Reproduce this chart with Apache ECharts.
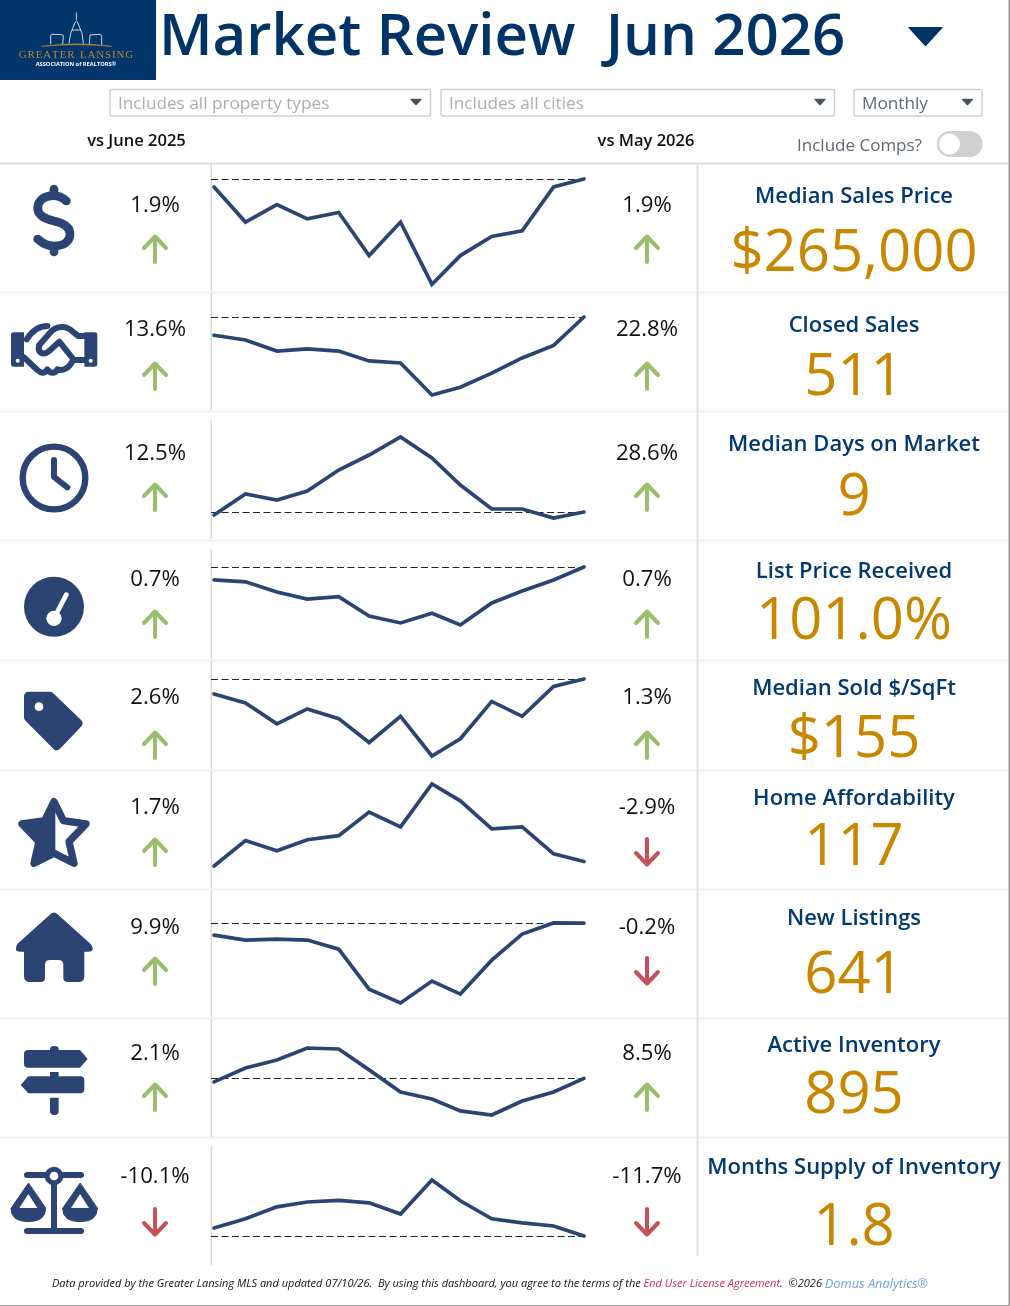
<!DOCTYPE html>
<html><head><meta charset="utf-8">
<script src="https://cdn.jsdelivr.net/npm/echarts@6/dist/echarts.min.js"></script>
<style>html,body{margin:0;padding:0;background:#fff}#c{width:1010px;height:1306px}</style>
</head><body><div id="c"></div>
<script>
// ---------- DATA ----------
const monthEnds = ['2025-06-30','2025-07-31','2025-08-31','2025-09-30','2025-10-31','2025-11-30','2025-12-31','2026-01-31','2026-02-28','2026-03-31','2026-04-30','2026-05-31','2026-06-30'];
const metricNames = ['Median Sales Price','Closed Sales','Median Days on Market','List Price Received','Median Sold $/SqFt','Home Affordability','New Listings','Active Inventory','Months Supply of Inventory'];
const metricValues = ['$265,000','511','9','101.0%','$155','117','641','895','1.8'];
const pctVsYearAgo = ['1.9%','13.6%','12.5%','0.7%','2.6%','1.7%','9.9%','2.1%','-10.1%'];
const pctVsPrevMonth = ['1.9%','22.8%','28.6%','0.7%','1.3%','-2.9%','-0.2%','8.5%','-11.7%'];
const medianSalesPrice = [260000,238000,249000,240000,244000,217000,238000,199000,217000,229000,232500,260000,265000];
const closedSales = [450,434,397,404,397,364,357,250,276,323,374,416,511];
const medianDaysOnMarket = [8,15,13,16,23,28,34,27,18,10,10,7,9];
const listPriceReceived = [100.3,100.2,99.65,99.27,99.4,98.35,97.98,98.5,97.87,99.06,99.7,100.3,101.0];
const medianSoldPerSqFt = [151,148.6,143,147,144.4,138,145,134.4,139,149,145,153,155];
const homeAffordability = [115,126.3,121.8,126.7,128.5,139,132.4,151.5,144,131.5,132.4,120.4,117];
const newListings = [583,559,564,559,515,322,255,361,298,462,588,642,641];
const activeInventory = [877,949,990,1052,1047,939,825,789,727,706,778,825,895];
const monthsSupply = [2.0,2.23,2.53,2.65,2.69,2.63,2.35,3.2,2.68,2.23,2.13,2.05,1.8];
const allSeries = [medianSalesPrice,closedSales,medianDaysOnMarket,listPriceReceived,medianSoldPerSqFt,homeAffordability,newListings,activeInventory,monthsSupply];
const showRefLine = [true,true,true,true,true,false,true,true,true];
const titleText = 'Market Review  Jun 2026';
const filterLabels = ['Includes all property types','Includes all cities','Monthly'];
const compareLabels = ['vs June 2025','vs May 2026'];

// ---------- LAYOUT ----------
const sparkTop = [179,317,437,567,679,784,922.9,1048,1180];
const sparkBottom = [284.3,395,518,625,756,866,1003,1115,1236];
const labelY = [196.5,325.5,444.5,571.5,688.5,798.5,918.5,1045.5,1167.5];
const valueY = [254.5,378.5,498.5,622.5,740.5,848.5,976.5,1096.5,1228.5];
const pctY = [206,330,454,580,698,808,928,1054,1177];
const arrowY = [249,376,497,624,745,852,971,1097,1222];
const NAVY='#003366', INK='#2c4473', GOLD='#c98700', FONT='"Open Sans","Noto Sans",sans-serif';

const graphics = [];
function rect(x,y,w,h,fill,r,stroke){graphics.push({type:'rect',silent:true,z:1,shape:{x,y,width:w,height:h,r:r||0},style:{fill:fill,stroke:stroke||null,lineWidth:stroke?1.5:0}});}
function text(t,x,y,size,fill,align,weight,style,fam){graphics.push({type:'text',silent:true,z:5,x:x,y:y,style:{text:t,fill:fill,align:align||'center',verticalAlign:'middle',textAlign:align||'center',textVerticalAlign:'middle',fontSize:size,fontWeight:weight||'normal',fontStyle:style||'normal',fontFamily:fam||FONT}});}
function tri(cx,cy,w,h,fill){graphics.push({type:'polygon',silent:true,z:5,shape:{points:[[cx-w/2,cy-h/2],[cx+w/2,cy-h/2],[cx,cy+h/2]]},style:{fill:fill,stroke:fill,lineWidth:1.2,lineJoin:'round'}});}
function arrow(cx,cy,up){const c=up?'#9bbe6c':'#c5505a';const d=up?1:-1;
  graphics.push({type:'polyline',silent:true,z:5,shape:{points:[[cx,cy+13*d],[cx,cy-12*d]]},style:{stroke:c,lineWidth:4,lineCap:'round',fill:null}});
  graphics.push({type:'polyline',silent:true,z:5,shape:{points:[[cx-11,cy-1*d],[cx,cy-12.5*d],[cx+11,cy-1*d]]},style:{stroke:c,lineWidth:4,lineCap:'round',lineJoin:'round',fill:null}});}

// page frame + separators
rect(1008.5,0,1.5,1306,'#9a9a9a'); rect(0,1305,1010,1,'#9a9a9a');
rect(0,162.5,1008,2,'#dedede');
[292,411,540,660,770,889,1018,1137].forEach(y=>rect(0,y-0.5,1008,2,'#f1f1f1'));
[[164,291],[293,410],[420,539],[549,659],[661,769],[771,888],[891,1017],[1019,1137],[1147,1265]].forEach(s=>rect(210.5,s[0],1.5,s[1]-s[0],'#d9d9d9'));
rect(696.5,164,2,1092,'#e2e2e2');

// header
rect(0,0,156,80,'#02356a');
text('G\u200aR\u200aE\u200aA\u200aT\u200aE\u200aR  L\u200aA\u200aN\u200aS\u200aI\u200aN\u200aG',76,55.5,10.9,'#b9853a','center','normal','normal','"Liberation Serif",serif');
text('ASSOCIATION of REALTORS\u00ae',76,64,5.7,'#ffffff','center','bold');
text(titleText,159,38,58.2,NAVY,'left','600');
tri(925.5,36.5,33,18,NAVY);
rect(110,89.5,320.5,26.5,'#fff',2,'#cfcfcf'); text(filterLabels[0],118,104,17.2,'#a9aeb3','left'); tri(416,102,10,5.5,'#44505f');
rect(441,89.5,393.5,26.5,'#fff',2,'#cfcfcf'); text(filterLabels[1],449,104,17.2,'#a9aeb3','left'); tri(820,102,10,5.5,'#44505f');
rect(854,89.5,128,26.5,'#fff',2,'#cfcfcf'); text(filterLabels[2],862,104,17.2,'#5e6873','left'); tri(967.5,102,10,5.5,'#44505f');
text(compareLabels[0],136.5,141,16.5,'#111','center','600');
text(compareLabels[1],646,141,16.5,'#111','center','600');
text('Include Comps?',859.5,146,17,'#5e6873','center');
rect(937,131,45.5,26,'#cfcfcf',13);
graphics.push({type:'circle',silent:true,z:5,shape:{cx:949.5,cy:144,r:10.5},style:{fill:'#fff'}});

// rows
metricNames.forEach((n,i)=>{
  text(n,854,labelY[i],22,'#02396e','center','600');
  text(metricValues[i],854,valueY[i],58,GOLD);
  text(pctVsYearAgo[i],155,pctY[i],22.2,'#111');
  text(pctVsPrevMonth[i],647,pctY[i],22.2,'#111');
  arrow(155,arrowY[i],pctVsYearAgo[i][0]!=='-');
  arrow(647,arrowY[i],pctVsPrevMonth[i][0]!=='-');
});

// footer
graphics.push({type:'text',silent:true,z:5,x:52,y:1284,style:{
  text:'{k|Data provided by the Greater Lansing MLS and updated 07/10/26.  By using this dashboard, you agree to the terms of the }{r|End User License Agreement}{k|.  \u00a92026 }{b|Domus Analytics\u00ae}',
  align:'left',verticalAlign:'middle',textAlign:'left',textVerticalAlign:'middle',fontSize:11,fontFamily:FONT,fontStyle:'italic',
  rich:{k:{fill:'#111',fontSize:11.02,fontStyle:'italic',fontFamily:FONT},r:{fill:'#cf2f55',fontSize:11.02,fontStyle:'italic',fontFamily:FONT},b:{fill:'#6f9fe3',fontSize:12.8,fontStyle:'italic',fontFamily:FONT}}}});

// ---------- ICONS (drawn by a custom series, local units are 1/3 px) ----------
function P(d,fill,stroke,lw){return {type:'path',shape:{pathData:d},style:{fill:fill||'none',stroke:stroke||'none',lineWidth:lw||0,lineCap:'round',lineJoin:'round'}};}
function C(cx,cy,r,fill){return {type:'circle',shape:{cx,cy,r},style:{fill}};}
function G(ox,oy,children){return {type:'group',x:ox,y:oy,scaleX:1/3,scaleY:1/3,children};}
function renderIcons(){
 const W='#fff';
 return {type:'group',children:[
  // logo capitol
  G(0,0,[
    P('M229 38 L229 60 M222 75 Q229 52 236 75 L246 100 L250 130 M222 75 L212 100 L207 130 M217 90 H241','none',W,2.4),
    P('M152 132 L152 108 Q152 102 160 103 L185 104 Q192 105 190 112 L188 132 M268 132 L270 105 L300 103 Q306 104 305 112 L305 134','none',W,2.4),
    P('M125 139 Q230 124 335 139 Q230 130 125 139 Z','#b9853a','#b9853a',1.5)
  ]),
  // dollar
  G(0,0,[P('M199 603 C186 591 174 587 159 587 C132 587 113 603 113 624 C113 648 135 657 162 663 C189 669 210 681 210 702 C210 726 189 738 162 738 C141 738 126 729 113 717 M162 567 V585 M162 738 V756','none',INK,26)]),
  // handshake
  G(0,300,[
    P('M41 97 H72 V200 H41 Q33 200 33 192 V105 Q33 97 41 97 Z',INK),
    P('M253 97 H284 Q292 97 292 105 V192 Q292 200 284 200 H253 Z',INK),
    C(53,182,6,W),C(272,182,6,W),
    P('M80 118 C98 90 118 78 142 78','none',INK,18),
    P('M118 135 L150 98 C170 76 200 76 218 95 L235 108 L255 108','none',INK,18),
    P('M118 135 C110 155 128 168 145 155 L178 125 L222 180 H255','none',INK,18),
    P('M72 172 L112 210 C124 222 136 220 142 208 C150 222 166 222 172 208 C190 214 206 204 216 186','none',INK,18)
  ]),
  // clock
  G(0,300,[{type:'circle',shape:{cx:162,cy:534,r:94},style:{fill:'none',stroke:INK,lineWidth:19}},P('M162 480 V531 L202 562','none',INK,18)]),
  // gauge
  G(0,300,[C(162,920,90,INK),C(162,955,23,W),P('M162 955 L199 884','none',W,14)]),
  // tag
  G(0,660,[P('M85 108 H150 L235 190 L170 258 L85 172 Z',INK,INK,26),C(117,140,13,W)]),
  // star
  G(0,660,[P('M162 425 L190 482 L258 492 L207 545 L222 610 L162 580 L102 610 L117 545 L66 492 L134 482 Z','none',INK,22),P('M162 425 V580 L102 610 L117 545 L66 492 L134 482 Z',INK,INK,8)]),
  // house
  G(0,660,[P('M152 762 L52 852 Q40 875 60 875 H72 V948 Q72 966 90 966 H122 Q135 966 135 953 V915 Q135 900 150 900 H175 Q190 900 190 915 V953 Q190 966 203 966 H236 Q253 966 253 948 V875 H265 Q287 875 272 852 L172 762 Q162 753 152 762 Z',INK)]),
  // signpost
  G(0,1020,[
    P('M150 90 V88 Q150 78 163 78 Q176 78 176 88 V90 H240 L263 117 L240 143 H84 Q72 143 72 131 V102 Q72 90 84 90 Z',INK),
    P('M150 156 H176 V169 H241 Q253 169 253 181 V208 Q253 220 241 220 H85 L62 195 L85 169 H150 Z',INK),
    P('M150 233 H176 V272 Q176 285 163 285 Q150 285 150 272 Z',INK)
  ]),
  // scales
  G(0,1020,[
    P('M81 465 H243','none',INK,18),P('M81 633 H243','none',INK,18),P('M162 480 V630','none',INK,18),
    C(162,468,28,INK),C(162,468,13,W),
    P('M85 490 L33 565 Q33 605 85 605 Q137 605 137 565 Z',INK,INK,3),
    P('M85 522 L58 564 H112 Z',W),
    P('M240 490 L188 565 Q188 605 240 605 Q292 605 292 565 Z',INK,INK,3),
    P('M240 522 L213 564 H267 Z',W)
  ])
 ]};
}

// ---------- SPARKLINES ----------
const grids=[],xAxes=[],yAxes=[],series=[];
allSeries.forEach((vals,i)=>{
  grids.push({left:211,width:374,top:sparkTop[i],height:sparkBottom[i]-sparkTop[i],containLabel:false});
  xAxes.push({type:'time',gridIndex:i,min:'2025-06-27',max:'2026-07-01',show:false});
  const cur=vals[vals.length-1];
  yAxes.push({type:'value',gridIndex:i,min:Math.min(...vals),max:Math.max(...vals),show:false,scale:true});
  series.push({type:'line',name:metricNames[i],xAxisIndex:i,yAxisIndex:i,data:vals.map((v,j)=>[monthEnds[j],v]),
    showSymbol:false,symbol:'none',clip:false,silent:true,z:3,
    lineStyle:{color:INK,width:3.7,cap:'round',join:'miter'},
    markLine:showRefLine[i]?{silent:true,symbol:'none',animation:false,label:{show:false},z:2,
      lineStyle:{color:'#222',width:1,type:[7,3.5]},data:[{yAxis:cur}]}:undefined});
});
series.push({type:'custom',coordinateSystem:'none',data:[0],silent:true,z:4,renderItem:renderIcons});

const chart=echarts.init(document.getElementById('c'),null,{renderer:'canvas'});
chart.setOption({animation:false,backgroundColor:'#fff',grid:grids,xAxis:xAxes,yAxis:yAxes,series:series,graphic:{elements:graphics},tooltip:{show:false},legend:{show:false}});
</script></body></html>
